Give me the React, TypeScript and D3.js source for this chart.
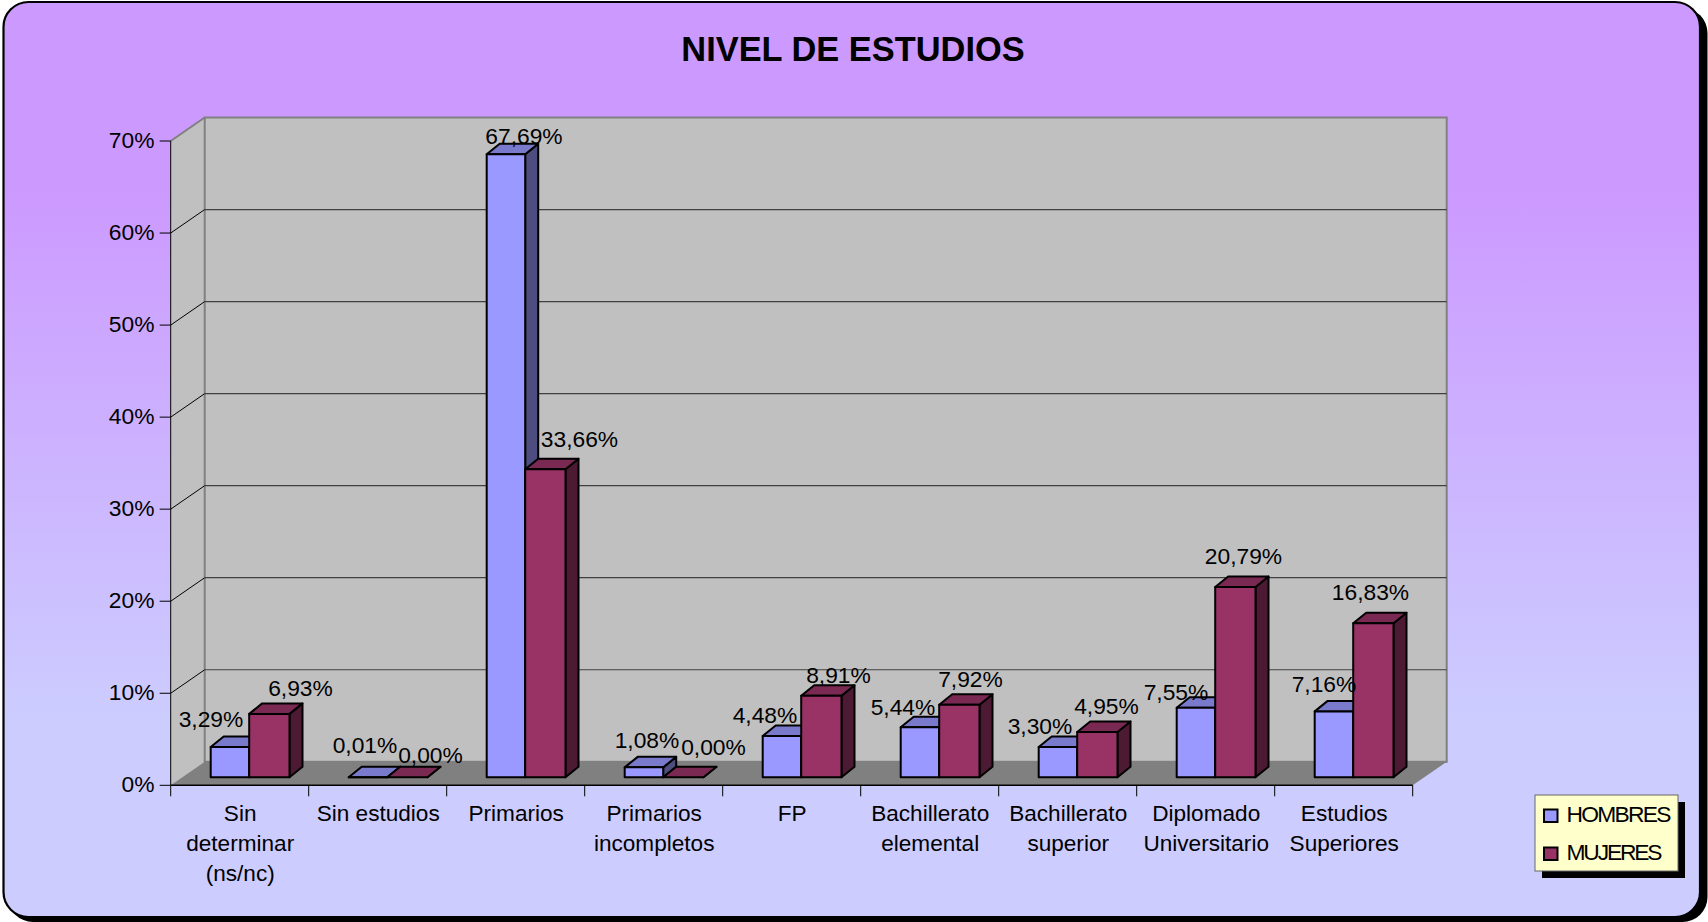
import React from "react";
import * as d3 from "d3";

const categories = [
  ["Sin", "determinar", "(ns/nc)"],
  ["Sin estudios"],
  ["Primarios"],
  ["Primarios", "incompletos"],
  ["FP"],
  ["Bachillerato", "elemental"],
  ["Bachillerato", "superior"],
  ["Diplomado", "Universitario"],
  ["Estudios", "Superiores"],
];
const hombres = [3.29, 0.01, 67.69, 1.08, 4.48, 5.44, 3.3, 7.55, 7.16];
const mujeres = [6.93, 0.0, 33.66, 0.0, 8.91, 7.92, 4.95, 20.79, 16.83];
const yTicks = [0, 10, 20, 30, 40, 50, 60, 70];

// hand placed labels in the original, offset from bar centre / bar top
const hombresNudge = [[-19, -20], [-3, -24], [18, -10], [3, -19], [-17, -13], [-17, -12], [-18, -13], [-20, -8], [-10, -19]];
const mujeresNudge = [[32, -18], [24, -14], [35, -20], [31, -22], [18, -12], [12, -17], [10, -18], [9, -22], [-2, -22]];

const FONT = "'Liberation Sans', Arial, sans-serif";
const left = 170.7;
const right = 1412.7;
const y0 = 785.3;
const y70 = 141;
const depthX = 34;
const depthY = 23.5;

const x = d3.scaleBand<number>().domain(d3.range(categories.length)).range([left, right]);
const y = d3.scaleLinear().domain([0, 70]).range([y0, y70]);
// the maroon columns sit a touch lower than the axis says in the original
const yMujeres = d3.scaleLinear().domain([0, 70]).range([y0, y70 + 3.7]);

const poly = (pts: [number, number][]) => d3.line()(pts) + "Z";
const pct = (v: number) => v.toFixed(2).replace(".", ",") + "%";

const series = [
  { name: "HOMBRES", values: hombres, nudge: hombresNudge, front: "#9999FF", top: "#7A7ACC", side: "#4D4D80", offset: 40, w: 38.5, scale: y },
  { name: "MUJERES", values: mujeres, nudge: mujeresNudge, front: "#993366", top: "#7A2952", side: "#4D1A33", offset: 78.5, w: 40.3, scale: yMujeres },
];

const shiftY = 8;
const barDX = 13;
const barDY = 10.5;

function Bar({ i, v, s }: { i: number; v: number; s: (typeof series)[number] }) {
  const x0 = (x(i) as number) + s.offset;
  const x1 = x0 + s.w;
  const base = y0 - shiftY;
  const t = s.scale(v) - shiftY;
  return (
    <g stroke="#000" strokeWidth={2} strokeLinejoin="round">
      <path d={poly([[x1, base], [x1 + barDX, base - barDY], [x1 + barDX, t - barDY], [x1, t]])} fill={s.side} />
      <path d={poly([[x0, t], [x0 + barDX, t - barDY], [x1 + barDX, t - barDY], [x1, t]])} fill={s.top} />
      <rect x={x0} y={t} width={s.w} height={base - t} fill={s.front} />
    </g>
  );
}

export default function App() {
  const catPositions = d3.range(categories.length + 1).map((i) => left + i * x.bandwidth());
  return (
    <svg width={1708} height={922} style={{ position: "absolute", left: 0, top: 0 }} fontFamily={FONT}>
      <defs>
        <linearGradient id="bg" x1="0" y1="0" x2="0" y2="1">
          <stop offset="0" stopColor="#CC99FF" />
          <stop offset="0.2" stopColor="#CC99FF" />
          <stop offset="0.78" stopColor="#CCCCFF" />
          <stop offset="1" stopColor="#CCCCFF" />
        </linearGradient>
      </defs>
      <rect x={8} y={8} width={1699.5} height={914} rx={25} fill="#000" />
      <rect x={3.5} y={2} width={1696.5} height={915} rx={25} fill="url(#bg)" stroke="#000" strokeWidth={2.2} />

      <text x={853} y={60.5} textAnchor="middle" fontSize={34.4} fontWeight="bold" fill="#000">NIVEL DE ESTUDIOS</text>

      {/* walls */}
      <path d={poly([[left, y0], [left + depthX, y0 - depthY], [left + depthX, y70 - depthY], [left, y70]])} fill="#C0C0C0" />
      <rect x={left + depthX} y={y70 - depthY} width={right - left} height={y0 - y70} fill="#C0C0C0" stroke="#808080" strokeWidth={2} />
      <path d={poly([[left, y0], [left + depthX, y0 - depthY], [right + depthX, y0 - depthY], [right, y0]])} fill="#808080" />
      <line x1={left} y1={y70} x2={left + depthX} y2={y70 - depthY} stroke="#808080" strokeWidth={2} />

      {yTicks.filter((t) => t > 0 && t < 70).map((t) => (
        <g key={t}>
          <line x1={left} y1={y(t)} x2={left + depthX} y2={y(t) - depthY} stroke="#000" strokeWidth={1} />
          <line x1={left + depthX} y1={y(t) - depthY} x2={right + depthX} y2={y(t) - depthY} stroke="#404040" strokeWidth={1.2} />
        </g>
      ))}

      {/* axes */}
      <line x1={left} y1={y70} x2={left} y2={y0} stroke="#000" strokeWidth={1} />
      <line x1={left} y1={y0} x2={right} y2={y0} stroke="#000" strokeWidth={1.5} />
      {yTicks.map((t) => (
        <g key={t}>
          <line x1={left - 11} y1={y(t)} x2={left} y2={y(t)} stroke="#000" strokeWidth={1} />
          <text x={154.5} y={y(t) + 6.5} textAnchor="end" fontSize={22.8} fill="#000">{t}%</text>
        </g>
      ))}
      {catPositions.map((p) => (
        <line key={p} x1={p} y1={y0} x2={p} y2={y0 + 11} stroke="#000" strokeWidth={1} />
      ))}
      {categories.map((lines, i) => (
        <text key={i} textAnchor="middle" fontSize={22.6} fill="#000">
          {lines.map((l, j) => (
            <tspan key={j} x={(x(i) as number) + x.bandwidth() / 2 + 0.5} y={821 + j * 30}>{l}</tspan>
          ))}
        </text>
      ))}

      {categories.map((_, i) => (
        <g key={i}>
          {series.map((s) => <Bar key={s.name} i={i} v={s.values[i]} s={s} />)}
        </g>
      ))}

      {series.map((s) => s.values.map((v, i) => (
        <text
          key={s.name + i}
          x={(x(i) as number) + s.offset + 19.25 + s.nudge[i][0]}
          y={y(v) - shiftY + s.nudge[i][1]}
          textAnchor="middle"
          fontSize={22.8}
          fill="#000"
        >{pct(v)}</text>
      )))}

      {/* legend */}
      <rect x={1542} y={802} width={143} height={76} fill="#000" />
      <rect x={1535} y={795} width={143} height={76} fill="#FFFFCC" stroke="#666" strokeWidth={1} />
      {series.map((s, i) => (
        <g key={s.name}>
          <rect x={1544} y={809.5 + i * 38} width={13.5} height={12.5} fill={s.front} stroke="#000" strokeWidth={2} />
          <text x={1566.5} y={822.3 + i * 38} fontSize={22.8} fill="#000" textLength={i === 0 ? 105 : 96} lengthAdjust="spacing">{s.name}</text>
        </g>
      ))}
    </svg>
  );
}
